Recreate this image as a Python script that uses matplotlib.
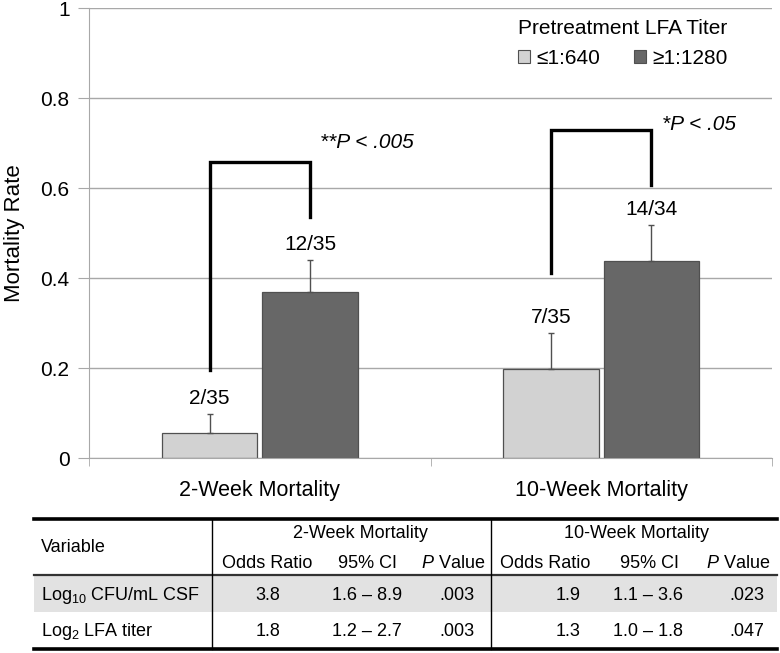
import matplotlib.pyplot as plt
from matplotlib.patches import Patch

plt.rcParams["font.family"] = ["Liberation Sans", "DejaVu Sans"]
plt.rcParams["mathtext.fontset"] = "custom"
plt.rcParams["mathtext.rm"] = "Liberation Sans"
plt.rcParams["mathtext.it"] = "Liberation Sans:italic"

# Bar chart data
CATEGORIES = ["2-Week Mortality", "10-Week Mortality"]
GROUPS = ["≤1:640", "≥1:1280"]
LOW_RATE = [0.056, 0.198]
HIGH_RATE = [0.369, 0.438]
LOW_ERR = [0.042, 0.080]
HIGH_ERR = [0.071, 0.080]
LOW_COUNTS = ["2/35", "7/35"]
HIGH_COUNTS = ["12/35", "14/34"]

# Significance brackets
BRACKET_LOW_END = [0.195, 0.411]
BRACKET_HIGH_END = [0.536, 0.607]
BRACKET_TOP = [0.658, 0.729]
P_LABELS = ["**P < .005", "*P < .05"]
P_LABEL_Y = [0.70, 0.74]

# Table data
TABLE_GROUPS = ["2-Week Mortality", "10-Week Mortality"]
TABLE_COLUMNS = ["Odds Ratio", "95% CI", "$P$ Value"] * 2
TABLE_ROWS = ["Log$_{10}$ CFU/mL CSF", "Log$_{2}$ LFA titer"]
TABLE_VALUES = [
    ["3.8", "1.6 – 8.9", ".003", "1.9", "1.1 – 3.6", ".023"],
    ["1.8", "1.2 – 2.7", ".003", "1.3", "1.0 – 1.8", ".047"],
]

LIGHT = "#d2d2d2"
DARK = "#676767"
EDGE = "#505050"
GRID = "#a8a8a8"

W, H = 780, 653
fig = plt.figure(figsize=(W / 100, H / 100), dpi=100)

# ---- bar chart ----
ax = fig.add_axes([89 / W, 1 - 458 / H, 683 / W, 450 / H])
x = list(range(len(CATEGORIES)))
width = 0.28
off = 0.147
x_low = [i - off for i in x]
x_high = [i + off for i in x]

ax.bar(x_low, LOW_RATE, width, color=LIGHT, edgecolor=EDGE, linewidth=0.9, zorder=2)
ax.bar(x_high, HIGH_RATE, width, color=DARK, edgecolor=EDGE, linewidth=0.9, zorder=2)
ax.errorbar(x_low, LOW_RATE, yerr=[[0] * len(x), LOW_ERR], fmt="none",
            ecolor=EDGE, elinewidth=1, capsize=2, capthick=1, zorder=3)
ax.errorbar(x_high, HIGH_RATE, yerr=[[0] * len(x), HIGH_ERR], fmt="none",
            ecolor=EDGE, elinewidth=1, capsize=2, capthick=1, zorder=3)

for xs, ys, es, labels in [(x_low, LOW_RATE, LOW_ERR, LOW_COUNTS),
                           (x_high, HIGH_RATE, HIGH_ERR, HIGH_COUNTS)]:
    for xi, yi, ei, lab in zip(xs, ys, es, labels):
        ax.text(xi, yi + ei + 0.034, lab, ha="center", va="center", fontsize=15)

for i in x:
    ax.plot([x_low[i], x_low[i], x_high[i], x_high[i]],
            [BRACKET_LOW_END[i], BRACKET_TOP[i], BRACKET_TOP[i], BRACKET_HIGH_END[i]],
            color="black", lw=2.4, solid_joinstyle="miter", zorder=4)
    ax.text(x_high[i] + 0.03, P_LABEL_Y[i], P_LABELS[i], style="italic",
            fontsize=15, ha="left", va="center")

ax.set_xlim(-0.5, len(CATEGORIES) - 0.5)
ax.set_ylim(0, 1)
ax.set_yticks([0, 0.2, 0.4, 0.6, 0.8, 1])
ax.set_yticklabels(["0", "0.2", "0.4", "0.6", "0.8", "1"])
ax.set_xticks(x)
ax.set_xticklabels(CATEGORIES)
ax.set_xticks([-0.5, 0.5, 1.5], minor=True)
ax.tick_params(axis="x", which="major", length=0, pad=16, labelsize=15.5)
ax.tick_params(axis="x", which="minor", length=6, color=GRID)
ax.tick_params(axis="y", length=8, color=GRID, labelsize=15, pad=6)
ax.grid(axis="y", color=GRID, lw=1, zorder=0)
for side in ["top", "right"]:
    ax.spines[side].set_visible(False)
for side in ["left", "bottom"]:
    ax.spines[side].set_color(GRID)
ax.set_ylabel("Mortality Rate", fontsize=16)
ax.yaxis.set_label_coords(-0.094, 0.5)

handles = [Patch(facecolor=LIGHT, edgecolor=EDGE, lw=0.8),
           Patch(facecolor=DARK, edgecolor=EDGE, lw=0.8)]
leg = ax.legend(handles, GROUPS, title="Pretreatment LFA Titer", ncol=2,
                loc="upper left", bbox_to_anchor=(0.628, 0.975), frameon=False,
                fontsize=15, title_fontsize=15, handlelength=0.6, handleheight=0.6,
                handletextpad=0.3, columnspacing=1.6, borderpad=0, borderaxespad=0,
                alignment="left")

# ---- table ----
tx = fig.add_axes([0, 0, 1, (H - 505) / H])
tx.set_xlim(0, W)
tx.set_ylim(H, 505)
tx.axis("off")

left, right = 34, 777
tx.fill_between([left, right], 575, 612, color="#e2e2e2", lw=0)
tx.plot([left, right], [519, 519], color="black", lw=2.6)
tx.plot([left, right], [575, 575], color="#333333", lw=1.6)
tx.plot([left, right], [649, 649], color="black", lw=2.6)
for vx in [212, 491]:
    tx.plot([vx, vx], [519, 649], color="black", lw=1)

group_x = [360, 637]
head_x = [267, 367, 453, 545, 650, 738]
value_x = [268, 367, 457, 568, 648, 747]
row_y = [595, 632]

fs = 13
tx.text(41, 548, "Variable", fontsize=fs, ha="left", va="center")
for gx, g in zip(group_x, TABLE_GROUPS):
    tx.text(gx, 534, g, fontsize=fs, ha="center", va="center")
for hx, col in zip(head_x, TABLE_COLUMNS):
    tx.text(hx, 563, col, fontsize=fs, ha="center", va="center")
for ry, row, vals in zip(row_y, TABLE_ROWS, TABLE_VALUES):
    tx.text(41, ry, row, fontsize=fs, ha="left", va="center")
    for vx, v in zip(value_x, vals):
        tx.text(vx, ry, v, fontsize=fs, ha="center", va="center")

fig.savefig("out.png", dpi=100)
